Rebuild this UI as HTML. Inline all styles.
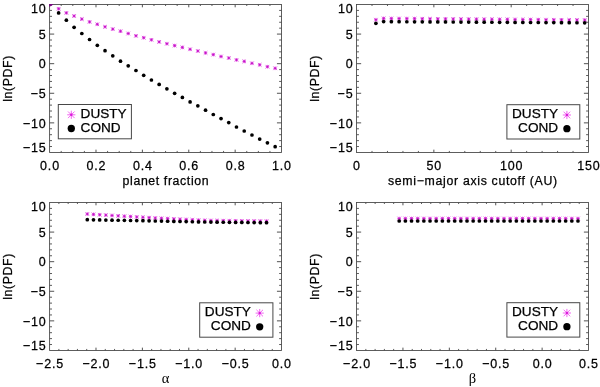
<!DOCTYPE html>
<html><head><meta charset="utf-8"><title>ln(PDF) panels</title>
<style>
html,body{margin:0;padding:0;background:#fff;}
body{width:600px;height:387px;overflow:hidden;font-family:"Liberation Sans",sans-serif;}
svg{display:block;will-change:transform;filter:grayscale(0);}
text{font-family:"Liberation Sans",sans-serif;fill:#000;stroke:#000;stroke-width:0.25px;}
.t{font-size:12.5px;letter-spacing:0.8px;}
.a,.y{font-size:12.3px;letter-spacing:0.62px;}
.l{font-size:13.6px;}
.g{font-family:"Liberation Serif",serif;font-size:14.5px;stroke:none;}
</style></head><body>
<svg width="600" height="387" viewBox="0 0 600 387">
<defs>
<clipPath id="c00"><rect x="49" y="3.9" width="233.15" height="149.15"/></clipPath>
<clipPath id="c01"><rect x="49" y="201.9" width="233.15" height="149.15"/></clipPath>
<clipPath id="c10"><rect x="355.95" y="3.9" width="233.15" height="149.15"/></clipPath>
<clipPath id="c11"><rect x="355.95" y="201.9" width="233.15" height="149.15"/></clipPath>
</defs>
<rect width="600" height="387" fill="#fff"/>
<g clip-path="url(#c00)"><path d="M56.83 8.8h3.6M58.63 7v3.6M56.83 7l3.6 3.6M56.83 10.6l3.6 -3.6M64.57 12.9h3.6M66.37 11.1v3.6M64.57 11.1l3.6 3.6M64.57 14.7l3.6 -3.6M72.3 16h3.6M74.1 14.2v3.6M72.3 14.2l3.6 3.6M72.3 17.8l3.6 -3.6M80.03 19.1h3.6M81.83 17.3v3.6M80.03 17.3l3.6 3.6M80.03 20.9l3.6 -3.6M87.77 21.9h3.6M89.56 20.1v3.6M87.77 20.1l3.6 3.6M87.77 23.7l3.6 -3.6M95.5 24.3h3.6M97.3 22.5v3.6M95.5 22.5l3.6 3.6M95.5 26.1l3.6 -3.6M103.23 26.8h3.6M105.03 25v3.6M103.23 25l3.6 3.6M103.23 28.6l3.6 -3.6M110.96 29.1h3.6M112.76 27.3v3.6M110.96 27.3l3.6 3.6M110.96 30.9l3.6 -3.6M118.7 31.2h3.6M120.5 29.4v3.6M118.7 29.4l3.6 3.6M118.7 33l3.6 -3.6M126.43 33.5h3.6M128.23 31.7v3.6M126.43 31.7l3.6 3.6M126.43 35.3l3.6 -3.6M134.16 35.8h3.6M135.96 34v3.6M134.16 34l3.6 3.6M134.16 37.6l3.6 -3.6M141.9 37.7h3.6M143.7 35.9v3.6M141.9 35.9l3.6 3.6M141.9 39.5l3.6 -3.6M149.63 39.8h3.6M151.43 38v3.6M149.63 38l3.6 3.6M149.63 41.6l3.6 -3.6M157.36 41.9h3.6M159.16 40.1v3.6M157.36 40.1l3.6 3.6M157.36 43.7l3.6 -3.6M165.09 43.7h3.6M166.89 41.9v3.6M165.09 41.9l3.6 3.6M165.09 45.5l3.6 -3.6M172.83 45.6h3.6M174.63 43.8v3.6M172.83 43.8l3.6 3.6M172.83 47.4l3.6 -3.6M180.56 47.4h3.6M182.36 45.6v3.6M180.56 45.6l3.6 3.6M180.56 49.2l3.6 -3.6M188.29 49.3h3.6M190.09 47.5v3.6M188.29 47.5l3.6 3.6M188.29 51.1l3.6 -3.6M196.03 51h3.6M197.83 49.2v3.6M196.03 49.2l3.6 3.6M196.03 52.8l3.6 -3.6M203.76 52.9h3.6M205.56 51.1v3.6M203.76 51.1l3.6 3.6M203.76 54.7l3.6 -3.6M211.49 54.6h3.6M213.29 52.8v3.6M211.49 52.8l3.6 3.6M211.49 56.4l3.6 -3.6M219.23 56.5h3.6M221.03 54.7v3.6M219.23 54.7l3.6 3.6M219.23 58.3l3.6 -3.6M226.96 58h3.6M228.76 56.2v3.6M226.96 56.2l3.6 3.6M226.96 59.8l3.6 -3.6M234.69 59.9h3.6M236.49 58.1v3.6M234.69 58.1l3.6 3.6M234.69 61.7l3.6 -3.6M242.42 61.4h3.6M244.22 59.6v3.6M242.42 59.6l3.6 3.6M242.42 63.2l3.6 -3.6M250.16 63.3h3.6M251.96 61.5v3.6M250.16 61.5l3.6 3.6M250.16 65.1l3.6 -3.6M257.89 64.8h3.6M259.69 63v3.6M257.89 63l3.6 3.6M257.89 66.6l3.6 -3.6M265.62 66.7h3.6M267.42 64.9v3.6M265.62 64.9l3.6 3.6M265.62 68.5l3.6 -3.6M273.36 68.3h3.6M275.16 66.5v3.6M273.36 66.5l3.6 3.6M273.36 70.1l3.6 -3.6" stroke="#d81cd8" stroke-width="0.75" fill="none"/><path d="M57.83 8h1.6v1.6h-1.6zM65.57 12.1h1.6v1.6h-1.6zM73.3 15.2h1.6v1.6h-1.6zM81.03 18.3h1.6v1.6h-1.6zM88.77 21.1h1.6v1.6h-1.6zM96.5 23.5h1.6v1.6h-1.6zM104.23 26h1.6v1.6h-1.6zM111.96 28.3h1.6v1.6h-1.6zM119.7 30.4h1.6v1.6h-1.6zM127.43 32.7h1.6v1.6h-1.6zM135.16 35h1.6v1.6h-1.6zM142.9 36.9h1.6v1.6h-1.6zM150.63 39h1.6v1.6h-1.6zM158.36 41.1h1.6v1.6h-1.6zM166.09 42.9h1.6v1.6h-1.6zM173.83 44.8h1.6v1.6h-1.6zM181.56 46.6h1.6v1.6h-1.6zM189.29 48.5h1.6v1.6h-1.6zM197.03 50.2h1.6v1.6h-1.6zM204.76 52.1h1.6v1.6h-1.6zM212.49 53.8h1.6v1.6h-1.6zM220.23 55.7h1.6v1.6h-1.6zM227.96 57.2h1.6v1.6h-1.6zM235.69 59.1h1.6v1.6h-1.6zM243.42 60.6h1.6v1.6h-1.6zM251.16 62.5h1.6v1.6h-1.6zM258.89 64h1.6v1.6h-1.6zM266.62 65.9h1.6v1.6h-1.6zM274.36 67.5h1.6v1.6h-1.6z" fill="#c018c4"/><circle cx="58.63" cy="12.9" r="1.85"/><circle cx="66.37" cy="20.2" r="1.85"/><circle cx="74.1" cy="27.3" r="1.85"/><circle cx="81.83" cy="33.5" r="1.85"/><circle cx="89.56" cy="39.5" r="1.85"/><circle cx="97.3" cy="45.3" r="1.85"/><circle cx="105.03" cy="50.7" r="1.85"/><circle cx="112.76" cy="55.8" r="1.85"/><circle cx="120.5" cy="61.2" r="1.85"/><circle cx="128.23" cy="65.8" r="1.85"/><circle cx="135.96" cy="70.5" r="1.85"/><circle cx="143.7" cy="75.3" r="1.85"/><circle cx="151.43" cy="80" r="1.85"/><circle cx="159.16" cy="84.4" r="1.85"/><circle cx="166.89" cy="88.8" r="1.85"/><circle cx="174.63" cy="93.3" r="1.85"/><circle cx="182.36" cy="97.4" r="1.85"/><circle cx="190.09" cy="101.9" r="1.85"/><circle cx="197.83" cy="105.8" r="1.85"/><circle cx="205.56" cy="110.2" r="1.85"/><circle cx="213.29" cy="114.5" r="1.85"/><circle cx="221.03" cy="118.6" r="1.85"/><circle cx="228.76" cy="122.6" r="1.85"/><circle cx="236.49" cy="127" r="1.85"/><circle cx="244.22" cy="131" r="1.85"/><circle cx="251.96" cy="135" r="1.85"/><circle cx="259.69" cy="139.1" r="1.85"/><circle cx="267.42" cy="142.8" r="1.85"/><circle cx="275.16" cy="146.7" r="1.85"/></g>
<g clip-path="url(#c10)"><path d="M374.1 19.7h3.6M375.9 17.9v3.6M374.1 17.9l3.6 3.6M374.1 21.5l3.6 -3.6M381.83 18.4h3.6M383.63 16.6v3.6M381.83 16.6l3.6 3.6M381.83 20.2l3.6 -3.6M389.57 18.46h3.6M391.37 16.66v3.6M389.57 16.66l3.6 3.6M389.57 20.26l3.6 -3.6M397.3 18.52h3.6M399.1 16.72v3.6M397.3 16.72l3.6 3.6M397.3 20.32l3.6 -3.6M405.03 18.58h3.6M406.83 16.78v3.6M405.03 16.78l3.6 3.6M405.03 20.38l3.6 -3.6M412.76 18.65h3.6M414.56 16.85v3.6M412.76 16.85l3.6 3.6M412.76 20.45l3.6 -3.6M420.5 18.71h3.6M422.3 16.91v3.6M420.5 16.91l3.6 3.6M420.5 20.51l3.6 -3.6M428.23 18.77h3.6M430.03 16.97v3.6M428.23 16.97l3.6 3.6M428.23 20.57l3.6 -3.6M435.96 18.83h3.6M437.76 17.03v3.6M435.96 17.03l3.6 3.6M435.96 20.63l3.6 -3.6M443.7 18.89h3.6M445.5 17.09v3.6M443.7 17.09l3.6 3.6M443.7 20.69l3.6 -3.6M451.43 18.95h3.6M453.23 17.15v3.6M451.43 17.15l3.6 3.6M451.43 20.75l3.6 -3.6M459.16 19.02h3.6M460.96 17.22v3.6M459.16 17.22l3.6 3.6M459.16 20.82l3.6 -3.6M466.9 19.08h3.6M468.7 17.28v3.6M466.9 17.28l3.6 3.6M466.9 20.88l3.6 -3.6M474.63 19.14h3.6M476.43 17.34v3.6M474.63 17.34l3.6 3.6M474.63 20.94l3.6 -3.6M482.36 19.2h3.6M484.16 17.4v3.6M482.36 17.4l3.6 3.6M482.36 21l3.6 -3.6M490.09 19.26h3.6M491.89 17.46v3.6M490.09 17.46l3.6 3.6M490.09 21.06l3.6 -3.6M497.83 19.32h3.6M499.63 17.52v3.6M497.83 17.52l3.6 3.6M497.83 21.12l3.6 -3.6M505.56 19.38h3.6M507.36 17.58v3.6M505.56 17.58l3.6 3.6M505.56 21.18l3.6 -3.6M513.29 19.45h3.6M515.09 17.65v3.6M513.29 17.65l3.6 3.6M513.29 21.25l3.6 -3.6M521.03 19.51h3.6M522.83 17.71v3.6M521.03 17.71l3.6 3.6M521.03 21.31l3.6 -3.6M528.76 19.57h3.6M530.56 17.77v3.6M528.76 17.77l3.6 3.6M528.76 21.37l3.6 -3.6M536.49 19.63h3.6M538.29 17.83v3.6M536.49 17.83l3.6 3.6M536.49 21.43l3.6 -3.6M544.23 19.69h3.6M546.03 17.89v3.6M544.23 17.89l3.6 3.6M544.23 21.49l3.6 -3.6M551.96 19.75h3.6M553.76 17.95v3.6M551.96 17.95l3.6 3.6M551.96 21.55l3.6 -3.6M559.69 19.82h3.6M561.49 18.02v3.6M559.69 18.02l3.6 3.6M559.69 21.62l3.6 -3.6M567.42 19.88h3.6M569.22 18.08v3.6M567.42 18.08l3.6 3.6M567.42 21.68l3.6 -3.6M575.16 19.94h3.6M576.96 18.14v3.6M575.16 18.14l3.6 3.6M575.16 21.74l3.6 -3.6M582.89 20h3.6M584.69 18.2v3.6M582.89 18.2l3.6 3.6M582.89 21.8l3.6 -3.6" stroke="#d81cd8" stroke-width="0.75" fill="none"/><path d="M375.1 18.9h1.6v1.6h-1.6zM382.83 17.6h1.6v1.6h-1.6zM390.57 17.66h1.6v1.6h-1.6zM398.3 17.72h1.6v1.6h-1.6zM406.03 17.78h1.6v1.6h-1.6zM413.76 17.85h1.6v1.6h-1.6zM421.5 17.91h1.6v1.6h-1.6zM429.23 17.97h1.6v1.6h-1.6zM436.96 18.03h1.6v1.6h-1.6zM444.7 18.09h1.6v1.6h-1.6zM452.43 18.15h1.6v1.6h-1.6zM460.16 18.22h1.6v1.6h-1.6zM467.9 18.28h1.6v1.6h-1.6zM475.63 18.34h1.6v1.6h-1.6zM483.36 18.4h1.6v1.6h-1.6zM491.09 18.46h1.6v1.6h-1.6zM498.83 18.52h1.6v1.6h-1.6zM506.56 18.58h1.6v1.6h-1.6zM514.29 18.65h1.6v1.6h-1.6zM522.03 18.71h1.6v1.6h-1.6zM529.76 18.77h1.6v1.6h-1.6zM537.49 18.83h1.6v1.6h-1.6zM545.23 18.89h1.6v1.6h-1.6zM552.96 18.95h1.6v1.6h-1.6zM560.69 19.02h1.6v1.6h-1.6zM568.42 19.08h1.6v1.6h-1.6zM576.16 19.14h1.6v1.6h-1.6zM583.89 19.2h1.6v1.6h-1.6z" fill="#c018c4"/><circle cx="375.9" cy="23.3" r="1.85"/><circle cx="383.63" cy="21.6" r="1.85"/><circle cx="391.37" cy="21.65" r="1.85"/><circle cx="399.1" cy="21.69" r="1.85"/><circle cx="406.83" cy="21.74" r="1.85"/><circle cx="414.56" cy="21.78" r="1.85"/><circle cx="422.3" cy="21.83" r="1.85"/><circle cx="430.03" cy="21.88" r="1.85"/><circle cx="437.76" cy="21.92" r="1.85"/><circle cx="445.5" cy="21.97" r="1.85"/><circle cx="453.23" cy="22.02" r="1.85"/><circle cx="460.96" cy="22.06" r="1.85"/><circle cx="468.7" cy="22.11" r="1.85"/><circle cx="476.43" cy="22.15" r="1.85"/><circle cx="484.16" cy="22.2" r="1.85"/><circle cx="491.89" cy="22.25" r="1.85"/><circle cx="499.63" cy="22.29" r="1.85"/><circle cx="507.36" cy="22.34" r="1.85"/><circle cx="515.09" cy="22.38" r="1.85"/><circle cx="522.83" cy="22.43" r="1.85"/><circle cx="530.56" cy="22.48" r="1.85"/><circle cx="538.29" cy="22.52" r="1.85"/><circle cx="546.03" cy="22.57" r="1.85"/><circle cx="553.76" cy="22.62" r="1.85"/><circle cx="561.49" cy="22.66" r="1.85"/><circle cx="569.22" cy="22.71" r="1.85"/><circle cx="576.96" cy="22.75" r="1.85"/><circle cx="584.69" cy="22.8" r="1.85"/></g>
<g clip-path="url(#c01)"><path d="M85.5 214h3.6M87.3 212.2v3.6M85.5 212.2l3.6 3.6M85.5 215.8l3.6 -3.6M91.68 214.37h3.6M93.48 212.57v3.6M91.68 212.57l3.6 3.6M91.68 216.17l3.6 -3.6M97.86 214.73h3.6M99.66 212.93v3.6M97.86 212.93l3.6 3.6M97.86 216.53l3.6 -3.6M104.04 215.1h3.6M105.84 213.3v3.6M104.04 213.3l3.6 3.6M104.04 216.9l3.6 -3.6M110.22 215.47h3.6M112.02 213.67v3.6M110.22 213.67l3.6 3.6M110.22 217.27l3.6 -3.6M116.4 215.83h3.6M118.2 214.03v3.6M116.4 214.03l3.6 3.6M116.4 217.63l3.6 -3.6M122.58 216.2h3.6M124.38 214.4v3.6M122.58 214.4l3.6 3.6M122.58 218l3.6 -3.6M128.76 216.57h3.6M130.56 214.77v3.6M128.76 214.77l3.6 3.6M128.76 218.37l3.6 -3.6M134.94 216.93h3.6M136.74 215.13v3.6M134.94 215.13l3.6 3.6M134.94 218.73l3.6 -3.6M141.12 217.3h3.6M142.92 215.5v3.6M141.12 215.5l3.6 3.6M141.12 219.1l3.6 -3.6M147.3 217.65h3.6M149.1 215.85v3.6M147.3 215.85l3.6 3.6M147.3 219.45l3.6 -3.6M153.48 218h3.6M155.28 216.2v3.6M153.48 216.2l3.6 3.6M153.48 219.8l3.6 -3.6M159.66 218.3h3.6M161.46 216.5v3.6M159.66 216.5l3.6 3.6M159.66 220.1l3.6 -3.6M165.84 218.6h3.6M167.64 216.8v3.6M165.84 216.8l3.6 3.6M165.84 220.4l3.6 -3.6M172.02 218.9h3.6M173.82 217.1v3.6M172.02 217.1l3.6 3.6M172.02 220.7l3.6 -3.6M178.2 219.2h3.6M180 217.4v3.6M178.2 217.4l3.6 3.6M178.2 221l3.6 -3.6M184.38 219.5h3.6M186.18 217.7v3.6M184.38 217.7l3.6 3.6M184.38 221.3l3.6 -3.6M190.56 219.8h3.6M192.36 218v3.6M190.56 218l3.6 3.6M190.56 221.6l3.6 -3.6M196.74 220.1h3.6M198.54 218.3v3.6M196.74 218.3l3.6 3.6M196.74 221.9l3.6 -3.6M202.92 220.4h3.6M204.72 218.6v3.6M202.92 218.6l3.6 3.6M202.92 222.2l3.6 -3.6M209.1 220.5h3.6M210.9 218.7v3.6M209.1 218.7l3.6 3.6M209.1 222.3l3.6 -3.6M215.28 220.6h3.6M217.08 218.8v3.6M215.28 218.8l3.6 3.6M215.28 222.4l3.6 -3.6M221.46 220.66h3.6M223.26 218.86v3.6M221.46 218.86l3.6 3.6M221.46 222.46l3.6 -3.6M227.64 220.72h3.6M229.44 218.92v3.6M227.64 218.92l3.6 3.6M227.64 222.53l3.6 -3.6M233.82 220.79h3.6M235.62 218.99v3.6M233.82 218.99l3.6 3.6M233.82 222.59l3.6 -3.6M240 220.85h3.6M241.8 219.05v3.6M240 219.05l3.6 3.6M240 222.65l3.6 -3.6M246.18 220.91h3.6M247.98 219.11v3.6M246.18 219.11l3.6 3.6M246.18 222.71l3.6 -3.6M252.36 220.97h3.6M254.16 219.17v3.6M252.36 219.17l3.6 3.6M252.36 222.78l3.6 -3.6M258.54 221.04h3.6M260.34 219.24v3.6M258.54 219.24l3.6 3.6M258.54 222.84l3.6 -3.6M264.72 221.1h3.6M266.52 219.3v3.6M264.72 219.3l3.6 3.6M264.72 222.9l3.6 -3.6" stroke="#d81cd8" stroke-width="0.75" fill="none"/><path d="M86.5 213.2h1.6v1.6h-1.6zM92.68 213.57h1.6v1.6h-1.6zM98.86 213.93h1.6v1.6h-1.6zM105.04 214.3h1.6v1.6h-1.6zM111.22 214.67h1.6v1.6h-1.6zM117.4 215.03h1.6v1.6h-1.6zM123.58 215.4h1.6v1.6h-1.6zM129.76 215.77h1.6v1.6h-1.6zM135.94 216.13h1.6v1.6h-1.6zM142.12 216.5h1.6v1.6h-1.6zM148.3 216.85h1.6v1.6h-1.6zM154.48 217.2h1.6v1.6h-1.6zM160.66 217.5h1.6v1.6h-1.6zM166.84 217.8h1.6v1.6h-1.6zM173.02 218.1h1.6v1.6h-1.6zM179.2 218.4h1.6v1.6h-1.6zM185.38 218.7h1.6v1.6h-1.6zM191.56 219h1.6v1.6h-1.6zM197.74 219.3h1.6v1.6h-1.6zM203.92 219.6h1.6v1.6h-1.6zM210.1 219.7h1.6v1.6h-1.6zM216.28 219.8h1.6v1.6h-1.6zM222.46 219.86h1.6v1.6h-1.6zM228.64 219.92h1.6v1.6h-1.6zM234.82 219.99h1.6v1.6h-1.6zM241 220.05h1.6v1.6h-1.6zM247.18 220.11h1.6v1.6h-1.6zM253.36 220.17h1.6v1.6h-1.6zM259.54 220.24h1.6v1.6h-1.6zM265.72 220.3h1.6v1.6h-1.6z" fill="#c018c4"/><circle cx="87.3" cy="219.7" r="1.85"/><circle cx="93.48" cy="219.81" r="1.85"/><circle cx="99.66" cy="219.92" r="1.85"/><circle cx="105.84" cy="220.03" r="1.85"/><circle cx="112.02" cy="220.14" r="1.85"/><circle cx="118.2" cy="220.26" r="1.85"/><circle cx="124.38" cy="220.37" r="1.85"/><circle cx="130.56" cy="220.48" r="1.85"/><circle cx="136.74" cy="220.59" r="1.85"/><circle cx="142.92" cy="220.7" r="1.85"/><circle cx="149.1" cy="220.85" r="1.85"/><circle cx="155.28" cy="221" r="1.85"/><circle cx="161.46" cy="221.12" r="1.85"/><circle cx="167.64" cy="221.25" r="1.85"/><circle cx="173.82" cy="221.38" r="1.85"/><circle cx="180" cy="221.5" r="1.85"/><circle cx="186.18" cy="221.62" r="1.85"/><circle cx="192.36" cy="221.75" r="1.85"/><circle cx="198.54" cy="221.88" r="1.85"/><circle cx="204.72" cy="222" r="1.85"/><circle cx="210.9" cy="222.1" r="1.85"/><circle cx="217.08" cy="222.2" r="1.85"/><circle cx="223.26" cy="222.26" r="1.85"/><circle cx="229.44" cy="222.32" r="1.85"/><circle cx="235.62" cy="222.39" r="1.85"/><circle cx="241.8" cy="222.45" r="1.85"/><circle cx="247.98" cy="222.51" r="1.85"/><circle cx="254.16" cy="222.57" r="1.85"/><circle cx="260.34" cy="222.64" r="1.85"/><circle cx="266.52" cy="222.7" r="1.85"/></g>
<g clip-path="url(#c11)"><path d="M397.4 218.5h3.6M399.2 216.7v3.6M397.4 216.7l3.6 3.6M397.4 220.3l3.6 -3.6M403.56 218.5h3.6M405.37 216.7v3.6M403.56 216.7l3.6 3.6M403.56 220.3l3.6 -3.6M409.73 218.5h3.6M411.53 216.7v3.6M409.73 216.7l3.6 3.6M409.73 220.3l3.6 -3.6M415.89 218.5h3.6M417.69 216.7v3.6M415.89 216.7l3.6 3.6M415.89 220.3l3.6 -3.6M422.06 218.5h3.6M423.86 216.7v3.6M422.06 216.7l3.6 3.6M422.06 220.3l3.6 -3.6M428.22 218.5h3.6M430.02 216.7v3.6M428.22 216.7l3.6 3.6M428.22 220.3l3.6 -3.6M434.39 218.5h3.6M436.19 216.7v3.6M434.39 216.7l3.6 3.6M434.39 220.3l3.6 -3.6M440.56 218.5h3.6M442.36 216.7v3.6M440.56 216.7l3.6 3.6M440.56 220.3l3.6 -3.6M446.72 218.5h3.6M448.52 216.7v3.6M446.72 216.7l3.6 3.6M446.72 220.3l3.6 -3.6M452.88 218.5h3.6M454.69 216.7v3.6M452.88 216.7l3.6 3.6M452.88 220.3l3.6 -3.6M459.05 218.5h3.6M460.85 216.7v3.6M459.05 216.7l3.6 3.6M459.05 220.3l3.6 -3.6M465.21 218.5h3.6M467.01 216.7v3.6M465.21 216.7l3.6 3.6M465.21 220.3l3.6 -3.6M471.38 218.5h3.6M473.18 216.7v3.6M471.38 216.7l3.6 3.6M471.38 220.3l3.6 -3.6M477.54 218.5h3.6M479.34 216.7v3.6M477.54 216.7l3.6 3.6M477.54 220.3l3.6 -3.6M483.71 218.5h3.6M485.51 216.7v3.6M483.71 216.7l3.6 3.6M483.71 220.3l3.6 -3.6M489.87 218.5h3.6M491.67 216.7v3.6M489.87 216.7l3.6 3.6M489.87 220.3l3.6 -3.6M496.04 218.5h3.6M497.84 216.7v3.6M496.04 216.7l3.6 3.6M496.04 220.3l3.6 -3.6M502.2 218.5h3.6M504 216.7v3.6M502.2 216.7l3.6 3.6M502.2 220.3l3.6 -3.6M508.37 218.5h3.6M510.17 216.7v3.6M508.37 216.7l3.6 3.6M508.37 220.3l3.6 -3.6M514.54 218.5h3.6M516.34 216.7v3.6M514.54 216.7l3.6 3.6M514.54 220.3l3.6 -3.6M520.7 218.5h3.6M522.5 216.7v3.6M520.7 216.7l3.6 3.6M520.7 220.3l3.6 -3.6M526.87 218.5h3.6M528.66 216.7v3.6M526.87 216.7l3.6 3.6M526.87 220.3l3.6 -3.6M533.03 218.5h3.6M534.83 216.7v3.6M533.03 216.7l3.6 3.6M533.03 220.3l3.6 -3.6M539.2 218.5h3.6M541 216.7v3.6M539.2 216.7l3.6 3.6M539.2 220.3l3.6 -3.6M545.36 218.5h3.6M547.16 216.7v3.6M545.36 216.7l3.6 3.6M545.36 220.3l3.6 -3.6M551.53 218.5h3.6M553.33 216.7v3.6M551.53 216.7l3.6 3.6M551.53 220.3l3.6 -3.6M557.69 218.5h3.6M559.49 216.7v3.6M557.69 216.7l3.6 3.6M557.69 220.3l3.6 -3.6M563.86 218.5h3.6M565.65 216.7v3.6M563.86 216.7l3.6 3.6M563.86 220.3l3.6 -3.6M570.02 218.5h3.6M571.82 216.7v3.6M570.02 216.7l3.6 3.6M570.02 220.3l3.6 -3.6M576.19 218.5h3.6M577.99 216.7v3.6M576.19 216.7l3.6 3.6M576.19 220.3l3.6 -3.6" stroke="#d81cd8" stroke-width="0.75" fill="none"/><path d="M398.4 217.7h1.6v1.6h-1.6zM404.56 217.7h1.6v1.6h-1.6zM410.73 217.7h1.6v1.6h-1.6zM416.89 217.7h1.6v1.6h-1.6zM423.06 217.7h1.6v1.6h-1.6zM429.22 217.7h1.6v1.6h-1.6zM435.39 217.7h1.6v1.6h-1.6zM441.56 217.7h1.6v1.6h-1.6zM447.72 217.7h1.6v1.6h-1.6zM453.88 217.7h1.6v1.6h-1.6zM460.05 217.7h1.6v1.6h-1.6zM466.21 217.7h1.6v1.6h-1.6zM472.38 217.7h1.6v1.6h-1.6zM478.54 217.7h1.6v1.6h-1.6zM484.71 217.7h1.6v1.6h-1.6zM490.87 217.7h1.6v1.6h-1.6zM497.04 217.7h1.6v1.6h-1.6zM503.2 217.7h1.6v1.6h-1.6zM509.37 217.7h1.6v1.6h-1.6zM515.54 217.7h1.6v1.6h-1.6zM521.7 217.7h1.6v1.6h-1.6zM527.87 217.7h1.6v1.6h-1.6zM534.03 217.7h1.6v1.6h-1.6zM540.2 217.7h1.6v1.6h-1.6zM546.36 217.7h1.6v1.6h-1.6zM552.53 217.7h1.6v1.6h-1.6zM558.69 217.7h1.6v1.6h-1.6zM564.86 217.7h1.6v1.6h-1.6zM571.02 217.7h1.6v1.6h-1.6zM577.19 217.7h1.6v1.6h-1.6z" fill="#c018c4"/><circle cx="399.2" cy="221" r="1.85"/><circle cx="405.37" cy="221" r="1.85"/><circle cx="411.53" cy="221" r="1.85"/><circle cx="417.69" cy="221" r="1.85"/><circle cx="423.86" cy="221" r="1.85"/><circle cx="430.02" cy="221" r="1.85"/><circle cx="436.19" cy="221" r="1.85"/><circle cx="442.36" cy="221" r="1.85"/><circle cx="448.52" cy="221" r="1.85"/><circle cx="454.69" cy="221" r="1.85"/><circle cx="460.85" cy="221" r="1.85"/><circle cx="467.01" cy="221" r="1.85"/><circle cx="473.18" cy="221" r="1.85"/><circle cx="479.34" cy="221" r="1.85"/><circle cx="485.51" cy="221" r="1.85"/><circle cx="491.67" cy="221" r="1.85"/><circle cx="497.84" cy="221" r="1.85"/><circle cx="504" cy="221" r="1.85"/><circle cx="510.17" cy="221" r="1.85"/><circle cx="516.34" cy="221" r="1.85"/><circle cx="522.5" cy="221" r="1.85"/><circle cx="528.66" cy="221" r="1.85"/><circle cx="534.83" cy="221" r="1.85"/><circle cx="541" cy="221" r="1.85"/><circle cx="547.16" cy="221" r="1.85"/><circle cx="553.33" cy="221" r="1.85"/><circle cx="559.49" cy="221" r="1.85"/><circle cx="565.65" cy="221" r="1.85"/><circle cx="571.82" cy="221" r="1.85"/><circle cx="577.99" cy="221" r="1.85"/></g>
<path d="M95.99 152.45v-2.8M95.99 4.5v2.8M142.38 152.45v-2.8M142.38 4.5v2.8M188.77 152.45v-2.8M188.77 4.5v2.8M235.16 152.45v-2.8M235.16 4.5v2.8M49.6 34.09h4.6M281.55 34.09h-4.6M49.6 63.68h4.6M281.55 63.68h-4.6M49.6 93.27h4.6M281.55 93.27h-4.6M49.6 122.86h4.6M281.55 122.86h-4.6" stroke="#4a4a4a" stroke-width="0.95" fill="none"/>
<path d="M61.2 152.45v-1.5M61.2 4.5v1.5M72.8 152.45v-1.5M72.8 4.5v1.5M84.39 152.45v-1.5M84.39 4.5v1.5M107.59 152.45v-1.5M107.59 4.5v1.5M119.19 152.45v-1.5M119.19 4.5v1.5M130.78 152.45v-1.5M130.78 4.5v1.5M153.98 152.45v-1.5M153.98 4.5v1.5M165.57 152.45v-1.5M165.57 4.5v1.5M177.17 152.45v-1.5M177.17 4.5v1.5M200.37 152.45v-1.5M200.37 4.5v1.5M211.96 152.45v-1.5M211.96 4.5v1.5M223.56 152.45v-1.5M223.56 4.5v1.5M246.76 152.45v-1.5M246.76 4.5v1.5M258.36 152.45v-1.5M258.36 4.5v1.5M269.95 152.45v-1.5M269.95 4.5v1.5M49.6 10.42h2.4M281.55 10.42h-2.4M49.6 16.34h2.4M281.55 16.34h-2.4M49.6 22.25h2.4M281.55 22.25h-2.4M49.6 28.17h2.4M281.55 28.17h-2.4M49.6 40.01h2.4M281.55 40.01h-2.4M49.6 45.93h2.4M281.55 45.93h-2.4M49.6 51.84h2.4M281.55 51.84h-2.4M49.6 57.76h2.4M281.55 57.76h-2.4M49.6 69.6h2.4M281.55 69.6h-2.4M49.6 75.52h2.4M281.55 75.52h-2.4M49.6 81.43h2.4M281.55 81.43h-2.4M49.6 87.35h2.4M281.55 87.35h-2.4M49.6 99.19h2.4M281.55 99.19h-2.4M49.6 105.11h2.4M281.55 105.11h-2.4M49.6 111.02h2.4M281.55 111.02h-2.4M49.6 116.94h2.4M281.55 116.94h-2.4M49.6 128.78h2.4M281.55 128.78h-2.4M49.6 134.7h2.4M281.55 134.7h-2.4M49.6 140.61h2.4M281.55 140.61h-2.4M49.6 146.53h2.4M281.55 146.53h-2.4" stroke="#4a4a4a" stroke-width="0.9" fill="none"/>
<rect x="49.6" y="4.5" width="231.95" height="147.95" fill="none" stroke="#484848" stroke-width="0.88"/>
<text class="t" transform="translate(46.5 12.9) scale(1 1.05)" text-anchor="end">10</text>
<text class="t" transform="translate(46.5 38.74) scale(1 1.05)" text-anchor="end">5</text>
<text class="t" transform="translate(46.5 68.33) scale(1 1.05)" text-anchor="end">0</text>
<text class="t" transform="translate(46.5 97.92) scale(1 1.05)" text-anchor="end">−5</text>
<text class="t" transform="translate(46.5 127.51) scale(1 1.05)" text-anchor="end">−10</text>
<text class="t" transform="translate(46.5 152.25) scale(1 1.05)" text-anchor="end">−15</text>
<text class="t" transform="translate(50 169.75) scale(1 1.05)" text-anchor="middle">0.0</text>
<text class="t" transform="translate(96.39 169.75) scale(1 1.05)" text-anchor="middle">0.2</text>
<text class="t" transform="translate(142.78 169.75) scale(1 1.05)" text-anchor="middle">0.4</text>
<text class="t" transform="translate(189.17 169.75) scale(1 1.05)" text-anchor="middle">0.6</text>
<text class="t" transform="translate(235.56 169.75) scale(1 1.05)" text-anchor="middle">0.8</text>
<text class="t" transform="translate(281.95 169.75) scale(1 1.05)" text-anchor="middle">1.0</text>
<text class="a" x="165.89" y="185" text-anchor="middle">planet fraction</text>
<text class="y" transform="translate(12 78.47) rotate(-90)" text-anchor="middle">ln(PDF)</text>
<path d="M433.87 152.45v-2.8M433.87 4.5v2.8M511.18 152.45v-2.8M511.18 4.5v2.8M356.55 34.09h4.6M588.5 34.09h-4.6M356.55 63.68h4.6M588.5 63.68h-4.6M356.55 93.27h4.6M588.5 93.27h-4.6M356.55 122.86h4.6M588.5 122.86h-4.6" stroke="#4a4a4a" stroke-width="0.95" fill="none"/>
<path d="M372.01 152.45v-1.5M372.01 4.5v1.5M387.48 152.45v-1.5M387.48 4.5v1.5M402.94 152.45v-1.5M402.94 4.5v1.5M418.4 152.45v-1.5M418.4 4.5v1.5M449.33 152.45v-1.5M449.33 4.5v1.5M464.79 152.45v-1.5M464.79 4.5v1.5M480.26 152.45v-1.5M480.26 4.5v1.5M495.72 152.45v-1.5M495.72 4.5v1.5M526.65 152.45v-1.5M526.65 4.5v1.5M542.11 152.45v-1.5M542.11 4.5v1.5M557.57 152.45v-1.5M557.57 4.5v1.5M573.04 152.45v-1.5M573.04 4.5v1.5M356.55 10.42h2.4M588.5 10.42h-2.4M356.55 16.34h2.4M588.5 16.34h-2.4M356.55 22.25h2.4M588.5 22.25h-2.4M356.55 28.17h2.4M588.5 28.17h-2.4M356.55 40.01h2.4M588.5 40.01h-2.4M356.55 45.93h2.4M588.5 45.93h-2.4M356.55 51.84h2.4M588.5 51.84h-2.4M356.55 57.76h2.4M588.5 57.76h-2.4M356.55 69.6h2.4M588.5 69.6h-2.4M356.55 75.52h2.4M588.5 75.52h-2.4M356.55 81.43h2.4M588.5 81.43h-2.4M356.55 87.35h2.4M588.5 87.35h-2.4M356.55 99.19h2.4M588.5 99.19h-2.4M356.55 105.11h2.4M588.5 105.11h-2.4M356.55 111.02h2.4M588.5 111.02h-2.4M356.55 116.94h2.4M588.5 116.94h-2.4M356.55 128.78h2.4M588.5 128.78h-2.4M356.55 134.7h2.4M588.5 134.7h-2.4M356.55 140.61h2.4M588.5 140.61h-2.4M356.55 146.53h2.4M588.5 146.53h-2.4" stroke="#4a4a4a" stroke-width="0.9" fill="none"/>
<rect x="356.55" y="4.5" width="231.95" height="147.95" fill="none" stroke="#484848" stroke-width="0.88"/>
<text class="t" transform="translate(353.45 12.9) scale(1 1.05)" text-anchor="end">10</text>
<text class="t" transform="translate(353.45 38.74) scale(1 1.05)" text-anchor="end">5</text>
<text class="t" transform="translate(353.45 68.33) scale(1 1.05)" text-anchor="end">0</text>
<text class="t" transform="translate(353.45 97.92) scale(1 1.05)" text-anchor="end">−5</text>
<text class="t" transform="translate(353.45 127.51) scale(1 1.05)" text-anchor="end">−10</text>
<text class="t" transform="translate(353.45 152.25) scale(1 1.05)" text-anchor="end">−15</text>
<text class="t" transform="translate(356.95 169.75) scale(1 1.05)" text-anchor="middle">0</text>
<text class="t" transform="translate(434.27 169.75) scale(1 1.05)" text-anchor="middle">50</text>
<text class="t" transform="translate(511.58 169.75) scale(1 1.05)" text-anchor="middle">100</text>
<text class="t" transform="translate(588.9 169.75) scale(1 1.05)" text-anchor="middle">150</text>
<text class="a" style="letter-spacing:0.69px" x="472.87" y="185" text-anchor="middle">semi−major axis cutoff (AU)</text>
<text class="y" transform="translate(319 78.47) rotate(-90)" text-anchor="middle">ln(PDF)</text>
<path d="M95.99 350.45v-2.8M95.99 202.5v2.8M142.38 350.45v-2.8M142.38 202.5v2.8M188.77 350.45v-2.8M188.77 202.5v2.8M235.16 350.45v-2.8M235.16 202.5v2.8M49.6 232.09h4.6M281.55 232.09h-4.6M49.6 261.68h4.6M281.55 261.68h-4.6M49.6 291.27h4.6M281.55 291.27h-4.6M49.6 320.86h4.6M281.55 320.86h-4.6" stroke="#4a4a4a" stroke-width="0.95" fill="none"/>
<path d="M58.88 350.45v-1.5M58.88 202.5v1.5M68.16 350.45v-1.5M68.16 202.5v1.5M77.43 350.45v-1.5M77.43 202.5v1.5M86.71 350.45v-1.5M86.71 202.5v1.5M105.27 350.45v-1.5M105.27 202.5v1.5M114.55 350.45v-1.5M114.55 202.5v1.5M123.82 350.45v-1.5M123.82 202.5v1.5M133.1 350.45v-1.5M133.1 202.5v1.5M151.66 350.45v-1.5M151.66 202.5v1.5M160.94 350.45v-1.5M160.94 202.5v1.5M170.21 350.45v-1.5M170.21 202.5v1.5M179.49 350.45v-1.5M179.49 202.5v1.5M198.05 350.45v-1.5M198.05 202.5v1.5M207.33 350.45v-1.5M207.33 202.5v1.5M216.6 350.45v-1.5M216.6 202.5v1.5M225.88 350.45v-1.5M225.88 202.5v1.5M244.44 350.45v-1.5M244.44 202.5v1.5M253.72 350.45v-1.5M253.72 202.5v1.5M262.99 350.45v-1.5M262.99 202.5v1.5M272.27 350.45v-1.5M272.27 202.5v1.5M49.6 208.42h2.4M281.55 208.42h-2.4M49.6 214.34h2.4M281.55 214.34h-2.4M49.6 220.25h2.4M281.55 220.25h-2.4M49.6 226.17h2.4M281.55 226.17h-2.4M49.6 238.01h2.4M281.55 238.01h-2.4M49.6 243.93h2.4M281.55 243.93h-2.4M49.6 249.84h2.4M281.55 249.84h-2.4M49.6 255.76h2.4M281.55 255.76h-2.4M49.6 267.6h2.4M281.55 267.6h-2.4M49.6 273.52h2.4M281.55 273.52h-2.4M49.6 279.43h2.4M281.55 279.43h-2.4M49.6 285.35h2.4M281.55 285.35h-2.4M49.6 297.19h2.4M281.55 297.19h-2.4M49.6 303.11h2.4M281.55 303.11h-2.4M49.6 309.02h2.4M281.55 309.02h-2.4M49.6 314.94h2.4M281.55 314.94h-2.4M49.6 326.78h2.4M281.55 326.78h-2.4M49.6 332.7h2.4M281.55 332.7h-2.4M49.6 338.61h2.4M281.55 338.61h-2.4M49.6 344.53h2.4M281.55 344.53h-2.4" stroke="#4a4a4a" stroke-width="0.9" fill="none"/>
<rect x="49.6" y="202.5" width="231.95" height="147.95" fill="none" stroke="#484848" stroke-width="0.88"/>
<text class="t" transform="translate(46.5 210.9) scale(1 1.05)" text-anchor="end">10</text>
<text class="t" transform="translate(46.5 236.74) scale(1 1.05)" text-anchor="end">5</text>
<text class="t" transform="translate(46.5 266.33) scale(1 1.05)" text-anchor="end">0</text>
<text class="t" transform="translate(46.5 295.92) scale(1 1.05)" text-anchor="end">−5</text>
<text class="t" transform="translate(46.5 325.51) scale(1 1.05)" text-anchor="end">−10</text>
<text class="t" transform="translate(46.5 350.25) scale(1 1.05)" text-anchor="end">−15</text>
<text class="t" transform="translate(50 367.75) scale(1 1.05)" text-anchor="middle">−2.5</text>
<text class="t" transform="translate(96.39 367.75) scale(1 1.05)" text-anchor="middle">−2.0</text>
<text class="t" transform="translate(142.78 367.75) scale(1 1.05)" text-anchor="middle">−1.5</text>
<text class="t" transform="translate(189.17 367.75) scale(1 1.05)" text-anchor="middle">−1.0</text>
<text class="t" transform="translate(235.56 367.75) scale(1 1.05)" text-anchor="middle">−0.5</text>
<text class="t" transform="translate(281.95 367.75) scale(1 1.05)" text-anchor="middle">0.0</text>
<text class="g" x="165.58" y="383.25" text-anchor="middle">α</text>
<text class="y" transform="translate(12 276.48) rotate(-90)" text-anchor="middle">ln(PDF)</text>
<path d="M402.94 350.45v-2.8M402.94 202.5v2.8M449.33 350.45v-2.8M449.33 202.5v2.8M495.72 350.45v-2.8M495.72 202.5v2.8M542.11 350.45v-2.8M542.11 202.5v2.8M356.55 232.09h4.6M588.5 232.09h-4.6M356.55 261.68h4.6M588.5 261.68h-4.6M356.55 291.27h4.6M588.5 291.27h-4.6M356.55 320.86h4.6M588.5 320.86h-4.6" stroke="#4a4a4a" stroke-width="0.95" fill="none"/>
<path d="M365.83 350.45v-1.5M365.83 202.5v1.5M375.11 350.45v-1.5M375.11 202.5v1.5M384.38 350.45v-1.5M384.38 202.5v1.5M393.66 350.45v-1.5M393.66 202.5v1.5M412.22 350.45v-1.5M412.22 202.5v1.5M421.5 350.45v-1.5M421.5 202.5v1.5M430.77 350.45v-1.5M430.77 202.5v1.5M440.05 350.45v-1.5M440.05 202.5v1.5M458.61 350.45v-1.5M458.61 202.5v1.5M467.89 350.45v-1.5M467.89 202.5v1.5M477.16 350.45v-1.5M477.16 202.5v1.5M486.44 350.45v-1.5M486.44 202.5v1.5M505 350.45v-1.5M505 202.5v1.5M514.28 350.45v-1.5M514.28 202.5v1.5M523.55 350.45v-1.5M523.55 202.5v1.5M532.83 350.45v-1.5M532.83 202.5v1.5M551.39 350.45v-1.5M551.39 202.5v1.5M560.67 350.45v-1.5M560.67 202.5v1.5M569.94 350.45v-1.5M569.94 202.5v1.5M579.22 350.45v-1.5M579.22 202.5v1.5M356.55 208.42h2.4M588.5 208.42h-2.4M356.55 214.34h2.4M588.5 214.34h-2.4M356.55 220.25h2.4M588.5 220.25h-2.4M356.55 226.17h2.4M588.5 226.17h-2.4M356.55 238.01h2.4M588.5 238.01h-2.4M356.55 243.93h2.4M588.5 243.93h-2.4M356.55 249.84h2.4M588.5 249.84h-2.4M356.55 255.76h2.4M588.5 255.76h-2.4M356.55 267.6h2.4M588.5 267.6h-2.4M356.55 273.52h2.4M588.5 273.52h-2.4M356.55 279.43h2.4M588.5 279.43h-2.4M356.55 285.35h2.4M588.5 285.35h-2.4M356.55 297.19h2.4M588.5 297.19h-2.4M356.55 303.11h2.4M588.5 303.11h-2.4M356.55 309.02h2.4M588.5 309.02h-2.4M356.55 314.94h2.4M588.5 314.94h-2.4M356.55 326.78h2.4M588.5 326.78h-2.4M356.55 332.7h2.4M588.5 332.7h-2.4M356.55 338.61h2.4M588.5 338.61h-2.4M356.55 344.53h2.4M588.5 344.53h-2.4" stroke="#4a4a4a" stroke-width="0.9" fill="none"/>
<rect x="356.55" y="202.5" width="231.95" height="147.95" fill="none" stroke="#484848" stroke-width="0.88"/>
<text class="t" transform="translate(353.45 210.9) scale(1 1.05)" text-anchor="end">10</text>
<text class="t" transform="translate(353.45 236.74) scale(1 1.05)" text-anchor="end">5</text>
<text class="t" transform="translate(353.45 266.33) scale(1 1.05)" text-anchor="end">0</text>
<text class="t" transform="translate(353.45 295.92) scale(1 1.05)" text-anchor="end">−5</text>
<text class="t" transform="translate(353.45 325.51) scale(1 1.05)" text-anchor="end">−10</text>
<text class="t" transform="translate(353.45 350.25) scale(1 1.05)" text-anchor="end">−15</text>
<text class="t" transform="translate(356.95 367.75) scale(1 1.05)" text-anchor="middle">−2.0</text>
<text class="t" transform="translate(403.34 367.75) scale(1 1.05)" text-anchor="middle">−1.5</text>
<text class="t" transform="translate(449.73 367.75) scale(1 1.05)" text-anchor="middle">−1.0</text>
<text class="t" transform="translate(496.12 367.75) scale(1 1.05)" text-anchor="middle">−0.5</text>
<text class="t" transform="translate(542.51 367.75) scale(1 1.05)" text-anchor="middle">0.0</text>
<text class="t" transform="translate(588.9 367.75) scale(1 1.05)" text-anchor="middle">0.5</text>
<text class="g" x="472.52" y="383.25" text-anchor="middle">β</text>
<text class="y" transform="translate(319 276.48) rotate(-90)" text-anchor="middle">ln(PDF)</text>
<path d="M49.1 4H53.3Q52.4 6.2 49.1 6.8z" fill="#780a80"/>
<rect x="58.3" y="104.5" width="73.1" height="34.3" fill="#fff" stroke="#484848" stroke-width="1"/>
<path d="M67.2 114.8h8.2M71.3 110.7v8.2M68 111.5l6.6 6.6M68 118.1l6.6 -6.6" stroke="#ee22ee" stroke-width="0.7" fill="none"/>
<circle cx="71.3" cy="114.8" r="1.2" fill="#d81cd8"/>
<circle cx="71.3" cy="128.5" r="3.65"/>
<text class="l" x="80.6" y="117.9" text-anchor="start">DUSTY</text>
<text class="l" x="80.6" y="131.6" text-anchor="start">COND</text>
<rect x="506.9" y="104.7" width="72.9" height="34.3" fill="#fff" stroke="#484848" stroke-width="1"/>
<path d="M562.8 115h8.2M566.9 110.9v8.2M563.6 111.7l6.6 6.6M563.6 118.3l6.6 -6.6" stroke="#ee22ee" stroke-width="0.7" fill="none"/>
<circle cx="566.9" cy="115" r="1.2" fill="#d81cd8"/>
<circle cx="566.9" cy="128.7" r="3.65"/>
<text class="l" x="558.1" y="118.1" text-anchor="end">DUSTY</text>
<text class="l" x="558.1" y="131.8" text-anchor="end">COND</text>
<rect x="199.7" y="302.8" width="73.2" height="34.4" fill="#fff" stroke="#484848" stroke-width="1"/>
<path d="M255.6 313.1h8.2M259.7 309v8.2M256.4 309.8l6.6 6.6M256.4 316.4l6.6 -6.6" stroke="#ee22ee" stroke-width="0.7" fill="none"/>
<circle cx="259.7" cy="313.1" r="1.2" fill="#d81cd8"/>
<circle cx="259.7" cy="326.8" r="3.65"/>
<text class="l" x="250.9" y="316.2" text-anchor="end">DUSTY</text>
<text class="l" x="250.9" y="329.9" text-anchor="end">COND</text>
<rect x="506.9" y="302.7" width="72.9" height="34.4" fill="#fff" stroke="#484848" stroke-width="1"/>
<path d="M562.8 313h8.2M566.9 308.9v8.2M563.6 309.7l6.6 6.6M563.6 316.3l6.6 -6.6" stroke="#ee22ee" stroke-width="0.7" fill="none"/>
<circle cx="566.9" cy="313" r="1.2" fill="#d81cd8"/>
<circle cx="566.9" cy="326.7" r="3.65"/>
<text class="l" x="558.1" y="316.1" text-anchor="end">DUSTY</text>
<text class="l" x="558.1" y="329.8" text-anchor="end">COND</text>
</svg>
</body></html>
